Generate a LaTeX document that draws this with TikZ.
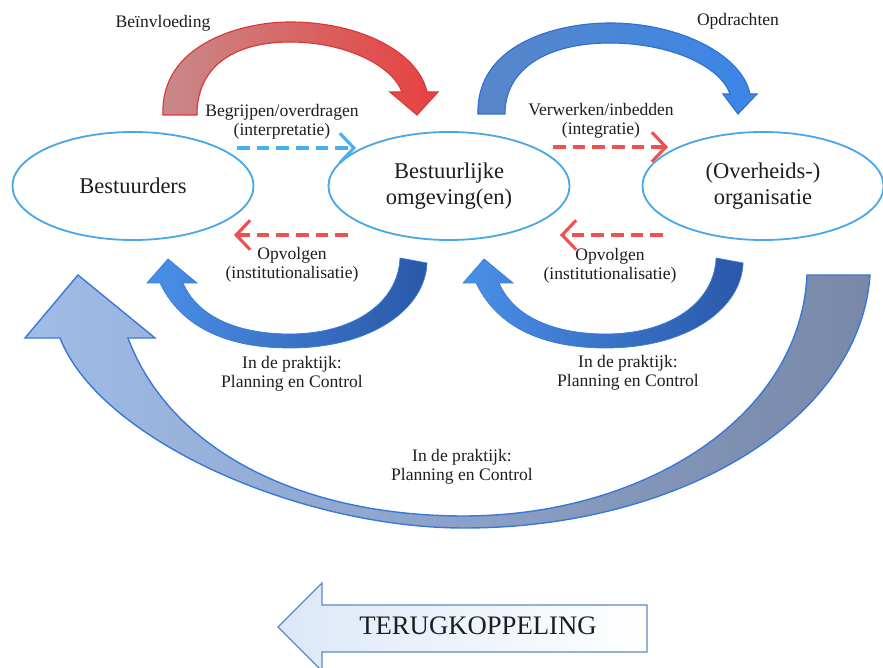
\documentclass[tikz,border=0pt]{standalone}
\usepackage{fontspec}
\setmainfont{Liberation Serif}
\usetikzlibrary{shapes.geometric,arrows.meta}
\definecolor{ellblue}{HTML}{4AA8E8}
\definecolor{txt}{HTML}{1E1E1E}
\definecolor{dblue}{HTML}{48B0F0}
\definecolor{dred}{HTML}{F05050}
\definecolor{redA}{HTML}{C88A8A}
\definecolor{redB}{HTML}{F0B0B0}
\definecolor{redC}{HTML}{E84040}
\definecolor{redD}{HTML}{D83838}
\definecolor{bluA}{HTML}{5A86C8}
\definecolor{bluB}{HTML}{A8C8F4}
\definecolor{bluC}{HTML}{3A86E8}
\definecolor{bluD}{HTML}{3070D0}
\definecolor{smA}{HTML}{4A90E8}
\definecolor{smB}{HTML}{3A7AD8}
\definecolor{smC}{HTML}{2A58A8}
\definecolor{bgA}{HTML}{A0BCE8}
\definecolor{bgB}{HTML}{7C98C8}
\definecolor{bgC}{HTML}{7888A8}
\definecolor{bgD}{HTML}{3A78D8}
\definecolor{tkA}{HTML}{DCE8F8}
\definecolor{tkD}{HTML}{5A88CC}
\tikzset{
  ell/.style={ellipse, draw=ellblue, line width=1.3pt, minimum width=6.025cm,
    minimum height=2.7cm, inner sep=0pt, align=center, text=txt,
    font=\fontsize{16}{18}\selectfont},
  lbl/.style={font=\fontsize{12.5}{13.5}\selectfont, align=center, text=txt, inner sep=0pt},
  biglbl/.style={font=\fontsize{19}{21}\selectfont, text=txt, inner sep=0pt},
  dashb/.style={draw=dblue, line width=2.6pt, dash pattern=on 9pt off 5pt,
    -{Straight Barb[length=10pt,width=21pt,line width=2.2pt]}},
  dashr/.style={draw=dred, line width=2.6pt, dash pattern=on 9pt off 5pt,
    -{Straight Barb[length=10pt,width=21pt,line width=2.2pt]}},
  fatred/.style={left color=redA, middle color=redB, right color=redC, draw=redD, line width=0.8pt},
  fatblue/.style={left color=bluA, middle color=bluB, right color=bluC, draw=bluD, line width=0.8pt},
  fatsmall/.style={left color=smA, middle color=smB, right color=smC, draw=smB, line width=0.5pt},
  fatbig/.style={left color=bgA, middle color=bgB, right color=bgC, draw=bgD, line width=1pt},
  fbarrow/.style={left color=tkA, right color=white, draw=tkD, line width=1pt},
}
\begin{document}
\begin{tikzpicture}[x=0.025cm,y=-0.025cm]
\useasboundingbox (0,0) rectangle (883,668);
\fill[white] (0,0) rectangle (883,668);

% big feedback arc
\path[fatbig] (60,338) .. controls (100,440) and (300,528) .. (464,528)
  .. controls (680,528) and (860,420) .. (870,275)
  -- (807,275) .. controls (800,420) and (640,516) .. (464,516)
  .. controls (300,516) and (170,450) .. (128,338)
  -- (155,338) -- (78,275) -- (25,338) -- cycle;

% small bottom arcs
\path[fatsmall] (160,283) .. controls (185,335) and (240,348) .. (290,348)
  .. controls (370,348) and (425,310) .. (427,263)
  -- (400,258) .. controls (398,305) and (350,334) .. (290,334)
  .. controls (240,334) and (198,318) .. (183,283)
  -- (197,283) -- (168,259) -- (147,283) -- cycle;
\begin{scope}[xshift=7.9cm]
\path[fatsmall] (160,283) .. controls (185,335) and (240,348) .. (290,348)
  .. controls (370,348) and (425,310) .. (427,263)
  -- (400,258) .. controls (398,305) and (350,334) .. (290,334)
  .. controls (240,334) and (198,318) .. (183,283)
  -- (197,283) -- (168,259) -- (147,283) -- cycle;
\end{scope}

% top red arc
\path[fatred] (163,115) .. controls (160,45) and (240,22) .. (290,22)
  .. controls (360,22) and (418,52) .. (427,92)
  -- (438,92) -- (417,115) -- (390,92) -- (402,92)
  .. controls (392,65) and (345,42) .. (290,42)
  .. controls (240,42) and (197,62) .. (197,115) -- cycle;

% top blue arc
\path[fatblue] (478,114) .. controls (476,45) and (555,23) .. (610,23)
  .. controls (680,23) and (742,55) .. (750,94)
  -- (757,94) -- (738,114) -- (723,94) -- (730,94)
  .. controls (720,65) and (668,43) .. (610,43)
  .. controls (548,43) and (505,68) .. (505,114) -- cycle;

% ellipses
\node[ell] (bst) at (133,186) {Bestuurders};
\node[ell] (omg) at (449,186) {Bestuurlijke\\omgeving(en)};
\node[ell] (org) at (763,186) {(Overheids-)\\organisatie};

% labels
\node[lbl] (l1) at (163,23) {Beïnvloeding};
\node[lbl] (l2) at (738,21) {Opdrachten};
\node[lbl] (l3) at (282,122) {Begrijpen/overdragen\\(interpretatie)};
\node[lbl] (l4) at (601,121) {Verwerken/inbedden\\(integratie)};
\node[lbl] (l5) at (292,265) {Opvolgen\\(institutionalisatie)};
\node[lbl] (l6) at (610,266) {Opvolgen\\(institutionalisatie)};
\node[lbl] (l7) at (292,374) {In de praktijk:\\Planning en Control};
\node[lbl] (l8) at (628,373) {In de praktijk:\\Planning en Control};
\node[lbl] (l9) at (462,467) {In de praktijk:\\Planning en Control};

% dashed arrows
\coordinate (d1s) at (237,148); \coordinate (d1e) at (356,148);
\coordinate (d2s) at (553,147); \coordinate (d2e) at (668,147);
\coordinate (d3s) at (348,235); \coordinate (d3e) at (234,235);
\coordinate (d4s) at (663,235); \coordinate (d4e) at (560,235);
\draw[dashb] (d1s) -- (d1e);
\draw[dashr] (d2s) -- (d2e);
\draw[dashr] (d3s) -- (d3e);
\draw[dashr] (d4s) -- (d4e);

% bottom arrow
\path[fbarrow] (278,627) -- (322,583) -- (322,605) -- (647,605) -- (647,652)
  -- (322,652) -- (322,671) -- cycle;
\node[biglbl] (tk) at (478,626) {TERUGKOPPELING};
\end{tikzpicture}
\end{document}
